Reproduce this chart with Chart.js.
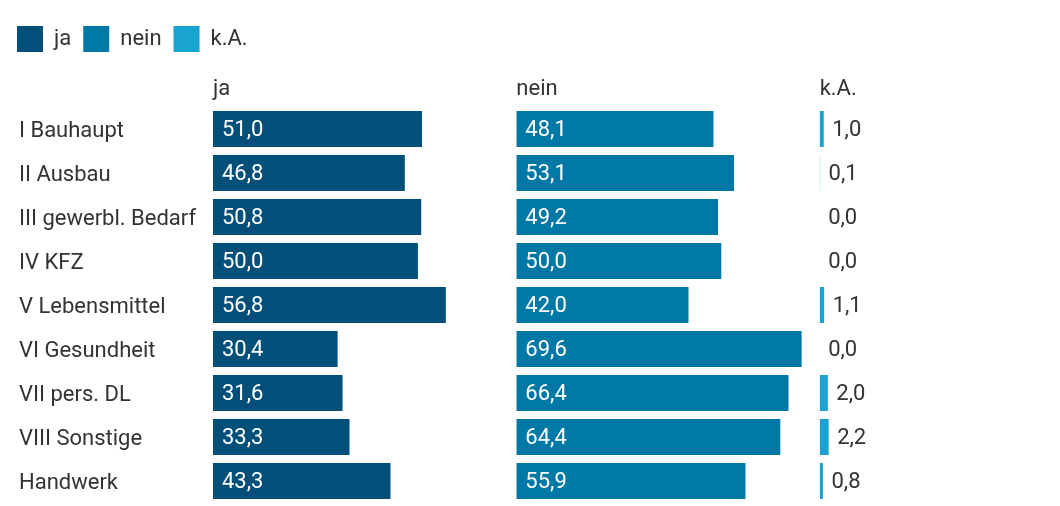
<!DOCTYPE html>
<html><head><meta charset="utf-8">
<script src="https://cdn.jsdelivr.net/npm/chart.js@4/dist/chart.umd.min.js"></script>
<style>html,body{margin:0;padding:0;background:#fff;} #wrap{position:relative;width:1060px;height:506px;}</style>
</head><body><div id="wrap"><canvas id="c" width="1060" height="506"></canvas></div>
<script>
const categories = ['I Bauhaupt','II Ausbau','III gewerbl. Bedarf','IV KFZ','V Lebensmittel','VI Gesundheit','VII pers. DL','VIII Sonstige','Handwerk'];
const jaValues = [51.0,46.8,50.8,50.0,56.8,30.4,31.6,33.3,43.3];
const neinValues = [48.1,53.1,49.2,50.0,42.0,69.6,66.4,64.4,55.9];
const kaValues = [1.0,0.1,0.0,0.0,1.1,0.0,2.0,2.2,0.8];
const seriesNames = ['ja','nein','k.A.'];
const columnMax = [74,74,54];
const colors = ['#02507a','#0078a6','#19a3d1'];

Chart.defaults.font.family = 'Roboto';
Chart.defaults.font.size = 22;
Chart.defaults.color = '#333333';

const axisIds = ['xJa','xNein','xKa'];
const valuesList = [jaValues, neinValues, kaValues];
const datasets = seriesNames.map((n,i)=>({
  label:n, data: valuesList[i], backgroundColor: colors[i], xAxisID: axisIds[i],
  grouped:false, categoryPercentage:1, barPercentage:36/44, borderWidth:0
}));
const scales = {
  y: {type:'category', grid:{display:false}, border:{display:false},
      ticks:{crossAlign:'far', padding:0, labelOffset:2, color:'#333333', font:{size:22}},
      afterFit(s){ s.width = 208; s.paddingTop = 0; s.paddingBottom = 0; } }
};
axisIds.forEach((id,i)=>{
  scales[id] = {type:'linear', position:'top', stack:'cols', stackWeight: columnMax[i], weight: 3-i,
    min:0, max: columnMax[i],
    grid:{display:false, drawTicks:false}, border:{display:false}, ticks:{display:false},
    title:{display:true, text: seriesNames[i], align:'start', padding:{top:14, bottom:4.6}, color:'#333333', font:{size:22}}};
});

const valueLabels = {
  id:'valueLabels',
  afterLayout(chart){ chart.scales.y.left = 19; },
  afterDatasetsDraw(chart){
    const ctx = chart.ctx;
    ctx.save();
    ctx.font = '22px Roboto';
    ctx.textBaseline = 'middle';
    ctx.textAlign = 'left';
    chart.data.datasets.forEach((ds, di)=>{
      const meta = chart.getDatasetMeta(di);
      meta.data.forEach((bar, j)=>{
        const txt = ds.data[j].toFixed(1).replace('.', ',');
        if (di < 2) { ctx.fillStyle = '#ffffff'; ctx.fillText(txt, bar.base + 9, bar.y + 1.5); }
        else { ctx.fillStyle = '#333333'; ctx.fillText(txt, Math.max(bar.x, bar.base) + 8.5, bar.y + 1.5); }
      });
    });
    ctx.restore();
  }
};

new Chart(document.getElementById('c'), {
  type:'bar',
  data:{labels: categories, datasets},
  options:{
    indexAxis:'y', responsive:false, animation:false,
    layout:{padding:{left:5, top:14, right:19, bottom:3}},
    scales,
    plugins:{
      legend:{position:'top', align:'start', labels:{boxWidth:26, boxHeight:26, padding:12, color:'#333333', font:{size:22}}},
      tooltip:{enabled:false}
    }
  },
  plugins:[valueLabels]
});
</script></body></html>
